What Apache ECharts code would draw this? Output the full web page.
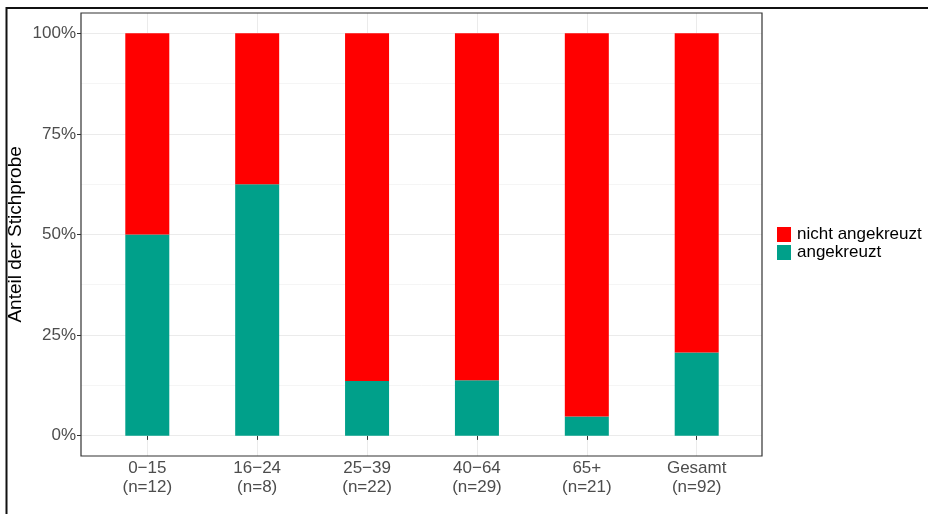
<!DOCTYPE html>
<html>
<head>
<meta charset="utf-8">
<script src="https://cdn.jsdelivr.net/npm/echarts@6/dist/echarts.min.js"></script>
<style>
  html, body { margin: 0; padding: 0; background: #fff; }
  #chart { width: 928px; height: 514px; }
</style>
</head>
<body>
<div id="chart"></div>
<script>
// === Daten ===
const gruppen = ["0\u221215", "16\u221224", "25\u221239", "40\u221264", "65+", "Gesamt"];
const stichprobe = [12, 8, 22, 29, 21, 92];
const angekreuzt = [0.5, 0.625, 0.136, 0.138, 0.048, 0.207];
const nichtAngekreuzt = [0.5, 0.375, 0.864, 0.862, 0.952, 0.793];
const yTicks = [0, 0.25, 0.5, 0.75, 1];

// === Layout (ggplot-Panel) ===
const panel = { left: 81, top: 13, right: 762, bottom: 456 };
const nullLinie = 435.5, hundertLinie = 33.3;
const schrift = "'Liberation Sans', Arial, sans-serif";
const grau = "#4D4D4D";

const chart = echarts.init(document.getElementById("chart"));

const option = {
  backgroundColor: "#fff",
  animation: false,
  textStyle: { fontFamily: schrift },
  grid: [
    // Raster für horizontale Linien + y-Achse
    { left: panel.left, right: 928 - panel.right, top: hundertLinie, bottom: 514 - nullLinie, outerBoundsMode: "none", containLabel: false },
    // Raster für Balken + x-Achse
    { left: 147.3, right: 928 - 696.7, top: panel.top, bottom: 514 - panel.bottom, outerBoundsMode: "none", containLabel: false }
  ],
  xAxis: [
    { gridIndex: 0, type: "value", min: 0, max: 1, show: false },
    {
      gridIndex: 1,
      type: "category",
      data: gruppen,
      boundaryGap: false,
      axisLine: { show: false },
      axisTick: { show: true, length: 4, lineStyle: { color: "#333", width: 1 } },
      axisLabel: {
        margin: 3,
        color: grau,
        fontSize: 17,
        lineHeight: 19,
        fontFamily: schrift,
        formatter: (v, i) => v + "\n(n=" + stichprobe[i] + ")"
      },
      splitLine: { show: true, lineStyle: { color: "#EBEBEB", width: 1 } }
    }
  ],
  yAxis: [
    {
      gridIndex: 0,
      type: "value",
      min: yTicks[0],
      max: yTicks[yTicks.length - 1],
      interval: 0.25,
      name: "Anteil der Stichprobe",
      nameLocation: "middle",
      nameGap: 56,
      nameMoveOverlap: false,
      nameRotate: 90,
      nameTextStyle: { color: "#000", fontSize: 19, fontFamily: schrift },
      axisLine: { show: false },
      axisTick: { show: true, length: 4, lineStyle: { color: "#333", width: 1 } },
      axisLabel: {
        margin: 5,
        color: grau,
        fontSize: 17,
        fontFamily: schrift,
        formatter: v => Math.round(v * 100) + "%"
      },
      splitLine: { show: true, lineStyle: { color: "#EBEBEB", width: 1.2 } },
      minorTick: { show: false, splitNumber: 2 },
      minorSplitLine: { show: true, lineStyle: { color: "#F2F2F2", width: 0.8 } }
    },
    { gridIndex: 1, type: "value", min: -0.05, max: 1.05, show: false }
  ],
  legend: {
    orient: "vertical",
    left: 777,
    top: 226,
    padding: 0,
    itemWidth: 14,
    itemHeight: 15,
    itemGap: 1,
    icon: "rect",
    data: ["nicht angekreuzt", "angekreuzt"],
    textStyle: { color: "#000", fontSize: 17, lineHeight: 15, fontFamily: schrift, padding: [0, 0, 0, 1] }
  },
  series: [
    {
      name: "angekreuzt",
      type: "bar",
      xAxisIndex: 1,
      yAxisIndex: 1,
      stack: "anteil",
      barWidth: 44,
      clip: false,
      itemStyle: { color: "#00A08A" },
      data: angekreuzt
    },
    {
      name: "nicht angekreuzt",
      type: "bar",
      xAxisIndex: 1,
      yAxisIndex: 1,
      stack: "anteil",
      barWidth: 44,
      clip: false,
      itemStyle: { color: "#FF0000" },
      data: nichtAngekreuzt
    }
  ],
  graphic: [
    // Panel-Rahmen
    {
      type: "rect",
      z: 100,
      shape: { x: panel.left, y: panel.top, width: panel.right - panel.left, height: panel.bottom - panel.top },
      style: { fill: null, stroke: "#333", lineWidth: 1.2 }
    },
    // äußerer Rahmen (oben und links sichtbar)
    {
      type: "rect",
      z: 100,
      shape: { x: 6.5, y: 8, width: 1200, height: 1200 },
      style: { fill: null, stroke: "#111", lineWidth: 2 }
    }
  ]
};

chart.setOption(option);
window.addEventListener("resize", () => chart.resize());
</script>
</body>
</html>
